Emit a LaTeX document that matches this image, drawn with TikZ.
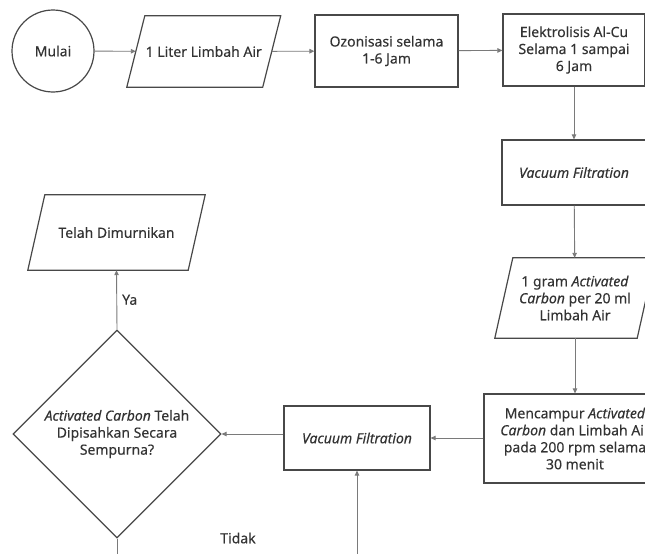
\documentclass[tikz,border=0pt]{standalone}
\usepackage{fontspec}
\setmainfont{Noto Sans}[FakeBold=0.15]
\usetikzlibrary{shapes.geometric,arrows.meta}
\definecolor{boxline}{HTML}{484848}
\definecolor{arrline}{HTML}{7A7A7A}
\definecolor{txt}{HTML}{333333}
\begin{document}
\begin{tikzpicture}[x=1pt,y=-1pt,
  every node/.style={text=txt,font=\fontsize{14}{17}\selectfont,align=center,inner sep=1pt},
  outline/.style={draw=boxline,line width=1.2pt},
  procbox/.style={outline,rectangle,minimum width=#1},
  iobox/.style={rectangle,minimum width=#1},
  startnode/.style={outline,circle,minimum size=82pt},
  decision/.style={outline,diamond,minimum width=208pt,minimum height=208pt,inner sep=0pt},
  flow/.style={draw=arrline,line width=0.9pt,-{Triangle[length=5pt,width=4.5pt]}},
  lbl/.style={text=txt}
]
\clip (0,0) rectangle (645,554);
\fill[white] (0,0) rectangle (645,554);

\node[startnode] (mulai) at (53,51) {Mulai};
\node[iobox=135.5pt,minimum height=71pt] (liter) at (203.75,51.5) {1 Liter Limbah Air};
\node[procbox=143pt,minimum height=72pt] (ozon) at (386.5,51) {Ozonisasi selama\\1-6 Jam};
\node[procbox=142pt,minimum height=72pt] (elek) at (574,50) {Elektrolisis Al-Cu\\Selama 1 sampai\\6 Jam};
\node[procbox=144pt,minimum height=65pt] (vf1) at (574,172.5) {\textit{Vacuum Filtration}};
\node[iobox=142pt,minimum height=80pt] (gram) at (575,298) {1 gram \textit{Activated}\\\textit{Carbon} per 20 ml\\Limbah Air};
\node[procbox=182pt,minimum height=89pt] (mix) at (575,438.5) {Mencampur \textit{Activated}\\\textit{Carbon} dan Limbah Air\\pada 200 rpm selama\\30 menit};
\node[procbox=146pt,minimum height=64pt] (vf2) at (357,438) {\textit{Vacuum Filtration}};
\node[decision] (dia) at (117,434) {\textit{Activated Carbon} Telah\\Dipisahkan Secara\\Sempurna?};
\node[iobox=160pt,minimum height=75pt] (telah) at (116.5,232.5) {Telah Dimurnikan};
\coordinate (loopdown) at (117,590);

\foreach \n/\s in {liter/9pt,gram/9pt,telah/8.5pt}
  \draw[outline,line join=miter] ([xshift=-\s]\n.south west) -- ([xshift=\s]\n.north west)
     -- ([xshift=\s]\n.north east) -- ([xshift=-\s]\n.south east) -- cycle;

\draw[flow] (mulai) -- (liter);
\draw[flow] (liter) -- (ozon);
\draw[flow] (ozon) -- (elek);
\draw[flow] (elek) -- (vf1);
\draw[flow] (vf1) -- (gram);
\draw[flow] (gram) -- (mix);
\draw[flow] (mix.west |- vf2.east) -- (vf2.east);
\draw[flow] (vf2.west |- dia.east) -- (dia.east);
\draw[flow] (dia.north) -- node[lbl,right=4pt,pos=0.5] (ya) {Ya} (telah.south);
\draw[flow] (dia.south) -- (loopdown) -| (vf2.south);
\node[lbl] (tidak) at (238,538) {Tidak};
\end{tikzpicture}
\end{document}
